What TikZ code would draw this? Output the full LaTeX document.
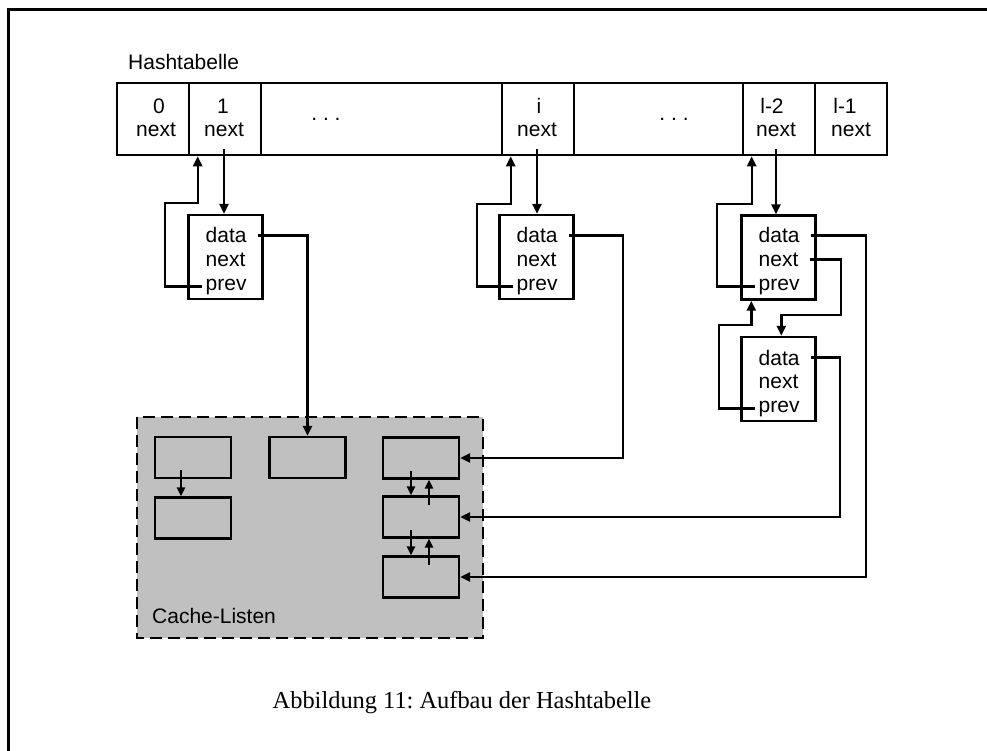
\documentclass[tikz,border=0pt]{standalone}
\usepackage{fontspec}
\setmainfont{Liberation Sans}
\newfontfamily\capfont{Liberation Serif}
\usetikzlibrary{arrows.meta}

\begin{document}
\frenchspacing
\begin{tikzpicture}[x=1pt,y=-1pt,
  line width=2.4pt,
  >={Triangle[length=10pt,width=9pt]},
  small/.style={-{Triangle[length=9pt,width=8pt]}},
  cell/.style={draw, line width=2.6pt, minimum height=72pt, inner sep=0pt},
  elem/.style={draw, minimum width=74pt, minimum height=84pt, inner sep=0pt},
  cbox/.style={draw, line width=2.4pt, minimum width=76pt, minimum height=41pt, inner sep=0pt},
  ctext/.style={font=\fontsize{21}{25}\selectfont, inner sep=0pt, anchor=base},
  etext/.style={font=\fontsize{21}{25}\selectfont, inner ysep=0pt, inner xsep=3pt, anchor=base west},
]
\useasboundingbox (0,0) rectangle (987,751);

% page frame
\draw[line width=3pt] (8,751) -- (8,10) -- (990,10);

% title of the table
\node[ctext, anchor=base west] (title) at (127,70) {Hashtabelle};

% hash table cells
\node[cell, minimum width=72pt]  (h0)  at (153,119)   {};
\node[cell, minimum width=72pt]  (h1)  at (225,119)   {};
\node[cell, minimum width=241pt] (hg1) at (381.5,119) {};
\node[cell, minimum width=72pt]  (hi)  at (538,119)   {};
\node[cell, minimum width=169pt] (hg2) at (658.5,119) {};
\node[cell, minimum width=72pt]  (hl2) at (779,119)   {};
\node[cell, minimum width=72pt]  (hl1) at (851,119)   {};

\node[ctext] (h0k)  at (159,114) {0};
\node[ctext] (h0n)  at (156,137) {next};
\node[ctext] (h1k)  at (223,114) {1};
\node[ctext] (h1n)  at (224,137) {next};
\node[ctext] (hg1d) at (326,121) {. . .};
\node[ctext] (hik)  at (539,114) {i};
\node[ctext] (hin)  at (537,137) {next};
\node[ctext] (hg2d) at (674,121) {. . .};
\node[ctext] (hl2k) at (772,114) {l-2};
\node[ctext] (hl2n) at (776,137) {next};
\node[ctext] (hl1k) at (845,114) {l-1};
\node[ctext] (hl1n) at (851,137) {next};

% list elements
\node[elem] (e1) at (225.5,257) {};
\node[etext] (e1d) at (201.5,243) {data};
\node[etext] (e1n) at (201.5,266) {next};
\node[etext] (e1p) at (201.5,290) {prev};

\node[elem] (ei) at (536.5,257) {};
\node[etext] (eid) at (512.5,243) {data};
\node[etext] (ein) at (512.5,266) {next};
\node[etext] (eip) at (512.5,290) {prev};

\node[elem] (ea) at (778.5,257.5) {};
\node[etext] (ead) at (754.5,243) {data};
\node[etext] (ean) at (754.5,266) {next};
\node[etext] (eap) at (754.5,290) {prev};

\node[elem] (eb) at (778.5,379) {};
\node[etext] (ebd) at (754.5,365) {data};
\node[etext] (ebn) at (754.5,388) {next};
\node[etext] (ebp) at (754.5,412) {prev};

% cache area
\draw[line width=2.6pt, dash pattern=on 12pt off 6pt, fill={rgb,255:red,192;green,192;blue,192}]
  (137,417) rectangle (483,638);
\node[ctext, anchor=base west] (clabel) at (151,623) {Cache-Listen};

\node[cbox] (A)  at (193,457.5) {};
\node[cbox] (B)  at (193,518)   {};
\node[cbox] (C)  at (307.5,457.5) {};
\node[cbox] (R1) at (421,458) {};
\node[cbox] (R2) at (421,517) {};
\node[cbox] (R3) at (421,577) {};

% links inside the cache lists
\draw[small] ([shift={(-12,-9)}]A.south) -- ([xshift=-12pt]B.north);
\draw[small] ([shift={(-10,-9)}]R1.south) -- ([xshift=-10pt]R2.north);
\draw[small] ([shift={(8,10)}]R2.north) -- ([xshift=8pt]R1.south);
\draw[small] ([shift={(-10,-9)}]R2.south) -- ([xshift=-10pt]R3.north);
\draw[small] ([shift={(8,10)}]R3.north) -- ([xshift=8pt]R2.south);

% next pointers from the table
\draw[->] ([yshift=-11pt]h1n.south) -- (h1n.south |- e1.north);
\draw[->] ([yshift=-11pt]hin.south) -- (hin.south |- ei.north);
\draw[->] ([yshift=-11pt]hl2n.south) -- (hl2n.south |- ea.north);

% prev pointers back to the table
\draw[->] (e1p.west) -| (165,203) -| ([xshift=10pt]h1.south west);
\draw[->] (eip.west) -| (477,204) -| ([xshift=10pt]hi.south west);
\draw[->] (eap.west) -| (717,204) -| ([xshift=10pt]hl2.south west);
\draw[->] (ebp.west) -| (719,325) -| ([xshift=11pt]ea.south west);

% next pointer between the two elements
\draw[->] ([xshift=7pt]ean.east) -| (841,315) -| ([xshift=41pt]eb.north west);

% data pointers into the cache lists
\draw[->] ([xshift=7pt]e1d.east) -| (C.north);
\draw[->] ([xshift=7pt]eid.east) -| ([xshift=163pt]R1.east) -- (R1.east);
\draw[->] ([xshift=7pt]ead.east) -| ([xshift=406pt]R3.east) -- (R3.east);
\draw[->] ([xshift=7pt]ebd.east) -| ([xshift=380pt]R2.east) -- (R2.east);

% caption
\node[font=\capfont\fontsize{24.4}{28}\selectfont, anchor=base, inner sep=0pt] (cap)
  at (462,708) {Abbildung 11: Aufbau der Hashtabelle};
\end{tikzpicture}
\end{document}
